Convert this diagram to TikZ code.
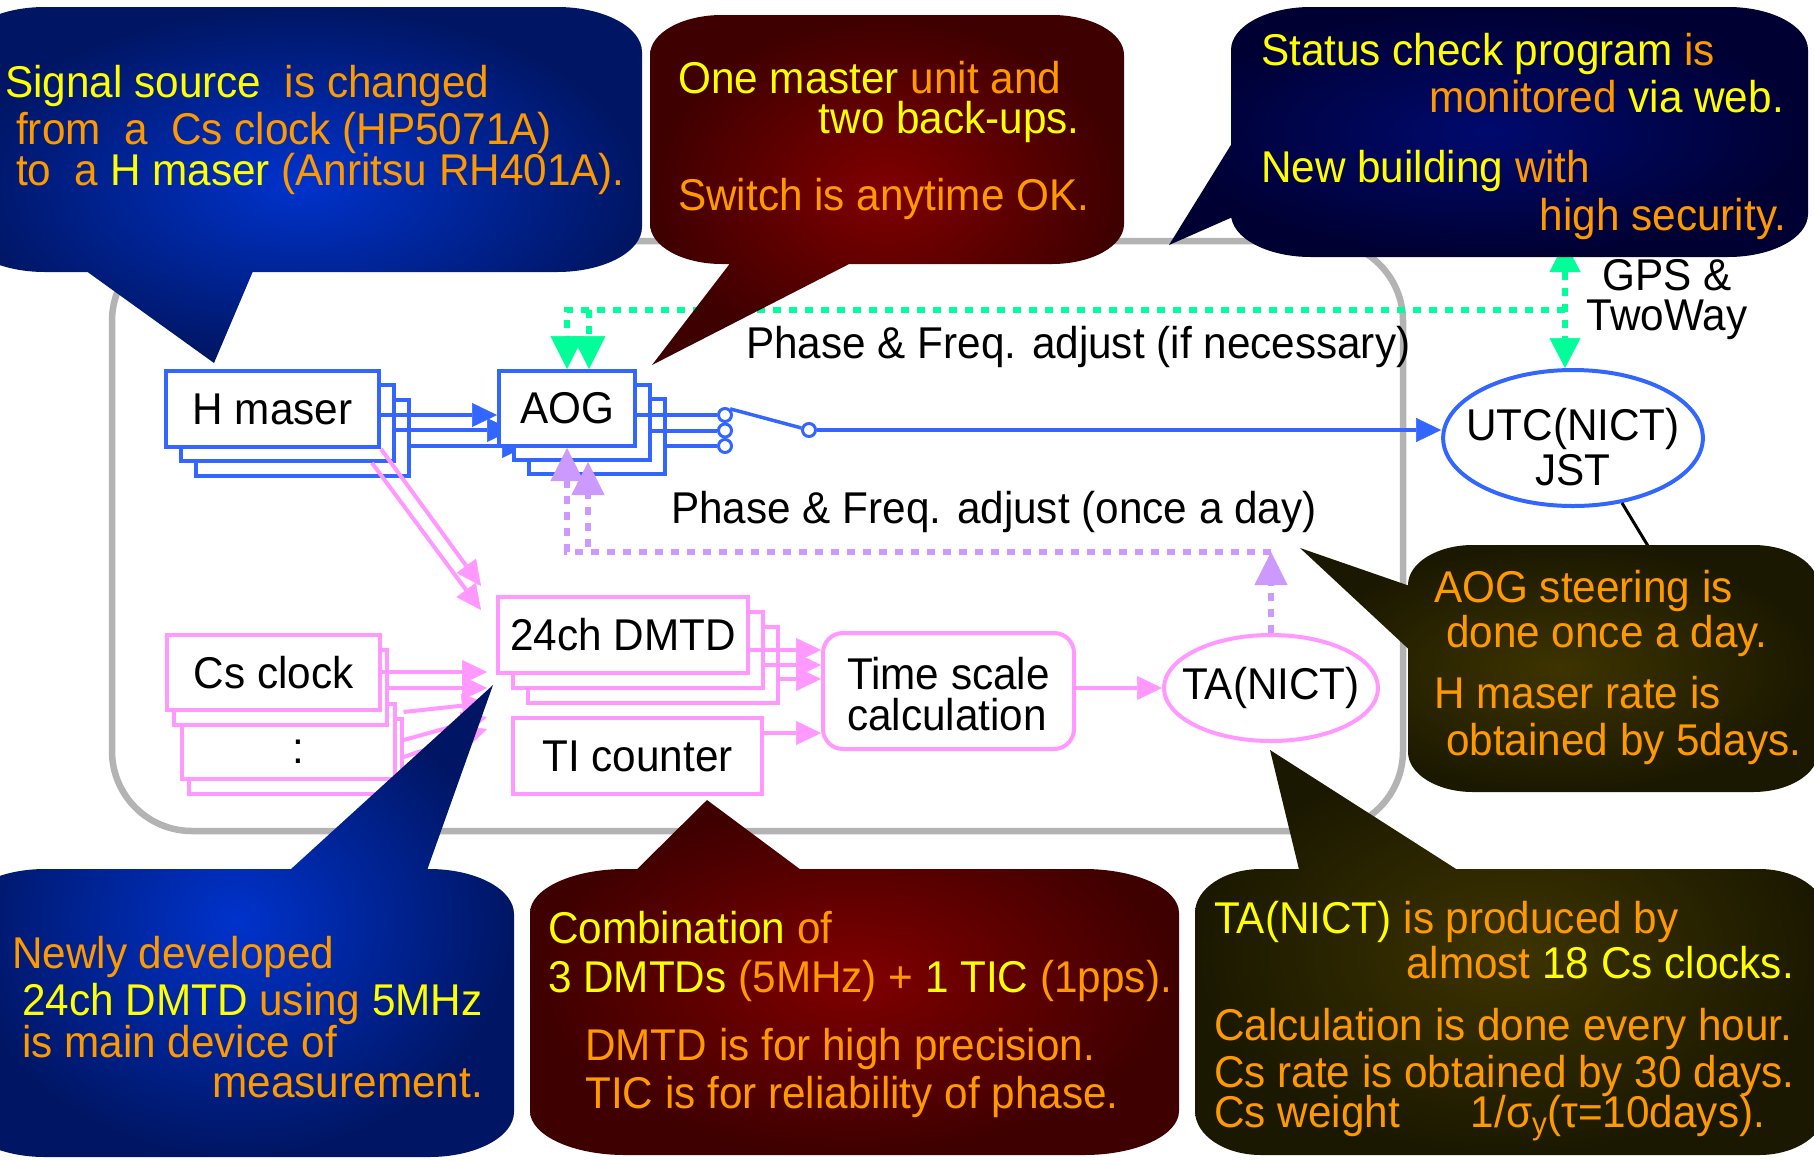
\documentclass[tikz,border=0pt]{standalone}
\usepackage{fontspec}
\setmainfont[FakeStretch=0.95]{Liberation Sans}
\usetikzlibrary{arrows.meta,shapes.geometric}

\definecolor{cblue}{RGB}{51,102,255}
\definecolor{cpink}{RGB}{255,153,255}
\definecolor{clav}{RGB}{204,153,255}
\definecolor{cgreen}{RGB}{0,255,153}
\definecolor{cframe}{RGB}{179,179,179}
\definecolor{cyel}{RGB}{255,255,0}
\definecolor{corg}{RGB}{255,153,0}
\definecolor{blueIn}{RGB}{0,51,204}
\definecolor{blueOut}{RGB}{0,22,100}
\definecolor{redIn}{RGB}{128,0,0}
\definecolor{redOut}{RGB}{62,0,0}
\definecolor{navyIn}{RGB}{0,10,110}
\definecolor{navyOut}{RGB}{0,0,50}
\definecolor{oliveIn}{RGB}{62,52,0}
\definecolor{oliveOut}{RGB}{26,24,0}

\newcommand\Yel[1]{\textcolor{cyel}{#1}}
\newcommand\Org[1]{\textcolor{corg}{#1}}
\newcommand\bigfont{\fontsize{44.5}{49}\selectfont}

% rounded box with elliptic corners: x1,y1,x2,y2,rx,ry
\newcommand\balloonbody[6]{%
 ({#1+#5},#2) -- ({#3-#5},#2)
 .. controls ({#3-0.448*#5},#2) and (#3,{#2+0.448*#6}) .. (#3,{#2+#6})
 -- (#3,{#4-#6})
 .. controls (#3,{#4-0.448*#6}) and ({#3-0.448*#5},#4) .. ({#3-#5},#4)
 -- ({#1+#5},#4)
 .. controls ({#1+0.448*#5},#4) and (#1,{#4-0.448*#6}) .. (#1,{#4-#6})
 -- (#1,{#2+#6})
 .. controls (#1,{#2+0.448*#6}) and ({#1+0.448*#5},#2) .. ({#1+#5},#2) -- cycle}

\pgfdeclarelayer{under}
\pgfsetlayers{under,main}

\tikzset{
  lbl/.style={inner sep=0pt, font=\bigfont, text=black},
  lw/.style={lbl, anchor=base west},
  le/.style={lbl, anchor=base east},
  bunit/.style={draw=cblue, fill=white, line width=4pt, inner sep=0pt, font=\bigfont},
  punit/.style={draw=cpink, fill=white, line width=4pt, inner sep=0pt, font=\bigfont},
  hmsize/.style={minimum width=213pt, minimum height=76pt},
  cssize/.style={minimum width=213pt, minimum height=75pt},
  aogsize/.style={minimum width=136pt, minimum height=75pt},
  dmsize/.style={minimum width=250pt, minimum height=76pt},
  jack/.style={circle, draw=cblue, fill=white, line width=3pt, minimum size=13pt, inner sep=0pt},
  sig/.style={line width=4pt, -{Triangle[length=25pt,width=24pt,line width=0.5pt]}},
  bsig/.style={sig, draw=cblue},
  psig/.style={sig, draw=cpink},
  dotline/.style={line width=6.5pt, dash pattern=on 8pt off 8pt},
  gdot/.style={dotline, draw=cgreen},
  ldot/.style={dotline, draw=clav},
  bigtip/.style={-{Triangle[length=33pt,width=33pt,line width=0.5pt]}},
}

\begin{document}
\begin{tikzpicture}[x=1pt,y=-1pt]
\useasboundingbox (0,0) rectangle (1814,1160);
\clip (0,0) rectangle (1814,1160);

% ---------- enclosure and H maser stack ----------
\begin{pgfonlayer}{under}
\fill[white] (0,0) rectangle (1814,1160);
\draw[cframe, line width=6.5pt, rounded corners=80pt] (112,241) rectangle (1403,831);
\node[bunit, hmsize] (hm3) at (302.5,438) {};
\node[bunit, hmsize] (hm2) at (287.5,423) {};
\node[bunit, hmsize] (hm) at (272.5,409) {H maser};
\end{pgfonlayer}

% ---------- AOG stack ----------
\node[bunit, aogsize] (aog3) at (597,436.5) {};
\node[bunit, aogsize] (aog2) at (582,422.5) {};
\node[bunit, aogsize] (aog) at (567,408.5) {AOG};

\begin{pgfonlayer}{under}
\draw[bsig] (hm.east |- 0,415) -- (aog.west |- 0,415);
\draw[bsig] (hm2.east |- 0,430) -- (aog2.west |- 0,430);
\draw[bsig] (hm3.east |- 0,446) -- (aog3.west |- 0,446);
\end{pgfonlayer}

% ---------- output switch and UTC ----------
\node[bunit, ellipse, minimum width=258pt, minimum height=136pt, inner xsep=-15pt, align=center,
      font=\fontsize{44.5}{45}\selectfont] (utc) at (1573,438) {\rule{0pt}{50pt}UTC(NICT)\\JST};
\node[jack] (sw1) at (725,415) {};
\node[jack] (sw2) at (725,430.5) {};
\node[jack] (sw3) at (725,446) {};
\node[jack] (pole) at (809,430) {};
\draw[cblue, line width=4pt] (aog.east |- sw1) -- (sw1.west);
\draw[cblue, line width=4pt] (aog2.east |- sw2) -- (sw2.west);
\draw[cblue, line width=4pt] (aog3.east |- sw3) -- (sw3.west);
\draw[cblue, line width=3.5pt] (sw1.50) -- (pole.165);
\draw[bsig] (pole.east) -- (utc.west |- pole.east);

% ---------- measurement chain ----------
\node[punit, dmsize] (dm3) at (653,665) {};
\node[punit, dmsize] (dm2) at (638,650) {};
\node[punit, dmsize] (dm) at (623,635) {24ch DMTD};
\node[punit, minimum width=249pt, minimum height=76pt] (ti) at (637.5,756) {TI counter};
\node[punit, rounded corners=20pt, minimum width=251pt, minimum height=116pt, align=left,
      font=\fontsize{44.5}{41}\selectfont] (ts) at (948.5,691) {\rule{0pt}{38pt}Time scale\\calculation};
\node[punit, ellipse, minimum width=214pt, minimum height=106pt, inner xsep=-15pt] (ta) at (1271,688) {TA(NICT)};

\node[punit, cssize] (dots2) at (295,756.5) {};
\node[punit, cssize] (dots) at (288,741.5) {};
\node[punit, cssize] (cs2) at (280.5,687.5) {};
\node[punit, cssize] (cs) at (273.5,672.5) {Cs clock};
\node[lbl, anchor=base] (colon) at (298,763) {:};

\draw[psig] (dm.east |- 0,650) -- (ts.west |- 0,650);
\draw[psig] (dm2.east |- 0,665) -- (ts.west |- 0,665);
\draw[psig] (dm3.east |- 0,679) -- (ts.west |- 0,679);
\draw[psig] (ti.east |- 0,733) -- (ts.west |- 0,733);
\draw[psig] (ts.east |- ta) -- (ta.west);

\coordinate (dmin) at ([xshift=-9pt]dm.west);
\draw[psig] (cs.east |- 0,672) -- (dmin |- 0,672);
\draw[psig] (cs2.east |- 0,688) -- (dmin |- 0,688);
\draw[psig] (dots2.east |- 0,712) -- (dmin |- 0,703);
\draw[psig] (dots2.east |- 0,740) -- (dmin |- 0,717);
\draw[psig] (dots2.east |- 0,757) -- (dmin |- 0,729);

\coordinate (hdin1) at ([xshift=-15pt,yshift=9pt]dm.north west);
\coordinate (hdin2) at ([xshift=-15pt,yshift=-15pt]dm.north west);
\draw[psig] (hm.south east) -- (hdin1);
\draw[psig] ([xshift=-24pt]hm2.south east) -- (hdin2);

% ---------- steering paths ----------
\coordinate (gj) at (1565,310);
\coordinate (gtop) at (1565,242);
\coordinate (gbot) at ([xshift=-8pt]utc.north);
\draw[gdot, {Triangle[length=30pt,width=31pt,line width=0.5pt]}-{Triangle[length=30pt,width=31pt,line width=0.5pt]}] (gtop) -- (gbot);
\draw[gdot, bigtip] (gj) -| (aog.north);
\draw[gdot, bigtip] (gj) -| ([xshift=22pt]aog.north);

\coordinate (pj) at (ta.north |- 0,552);
\draw[ldot, bigtip] (ta.north) -- (pj);
\draw[ldot, bigtip] (pj) -| (aog.south);
\draw[ldot, bigtip] (pj) -| ([xshift=6pt]aog2.south);

\coordinate (c4top) at (1648,546);
\draw[black, line width=3pt] (utc.-53) -- (c4top);

% ---------- labels ----------
\node[lw] (lif) at (746,358) {Phase \& Freq. adjust (if necessary)};
\node[lw] (lonce) at (671,523) {Phase \& Freq. adjust (once a day)};
\node[lbl, anchor=base] (lgps) at (1667,290) {GPS \&};
\node[lbl, anchor=base] (ltw) at (1667,330) {TwoWay};

% ---------- callouts ----------
\shade[inner color=blueIn, outer color=blueOut]
  \balloonbody{-40}{7}{642}{272}{85}{45} (57,250) -- (262,250) -- (214,363) -- cycle;
\node[lw] (t1a) at (5,97) {\Yel{Signal source}\ \ \Org{is changed}};
\node[lw] (t1b) at (16,144) {\Org{from\ \ a\ \ Cs clock (HP5071A)}};
\node[lw] (t1c) at (16,185) {\Org{to\ \ a} \Yel{H maser} \Org{(Anritsu RH401A).}};

\shade[inner color=redIn, outer color=redOut]
  \balloonbody{650}{15}{1124}{264}{72}{40} (748,240) -- (896,240) -- (652,365) -- cycle;
\node[lw] (t2a) at (678,93) {\Yel{One master} \Org{unit and}};
\node[le] (t2b) at (1080,133) {\Yel{two back-ups.}};
\node[lw] (t2c) at (678,210) {\Org{Switch is anytime OK.}};

\shade[inner color=navyIn, outer color=navyOut]
  \balloonbody{1231}{7}{1808}{257}{80}{43} (1169,245) -- (1260,98) -- (1260,205) -- cycle;
\node[lw] (t3a) at (1261,65) {\Yel{Status check program} \Org{is}};
\node[le] (t3b) at (1784,112) {\Org{monitored} \Yel{via web.}};
\node[lw] (t3c) at (1261,182) {\Yel{New building} \Org{with}};
\node[le] (t3d) at (1786,230) {\Org{high security.}};

\shade[inner color=oliveIn, outer color=oliveOut]
  \balloonbody{1408}{545}{1818}{792}{65}{40} (1300,548) -- (1430,593) -- (1430,669) -- cycle;
\node[lw] (t4a) at (1434,602) {\Org{AOG steering is}};
\node[lw] (t4b) at (1446,647) {\Org{done once a day.}};
\node[lw] (t4c) at (1434,708) {\Org{H maser rate is}};
\node[lw] (t4d) at (1446,755) {\Org{obtained by 5days.}};

\shade[inner color=blueIn, outer color=blueOut]
  \balloonbody{-40}{869}{514}{1157}{85}{45} (420,890) -- (268,890) -- (493,685) -- cycle;
\node[lw] (t5a) at (12,968) {\Org{Newly developed}};
\node[lw] (t5b) at (22,1015) {\Yel{24ch DMTD} \Org{using} \Yel{5MHz}};
\node[lw] (t5c) at (22,1057) {\Org{is main device of}};
\node[le] (t5d) at (483,1097) {\Org{measurement.}};

\shade[inner color=redIn, outer color=redOut]
  \balloonbody{530}{869}{1179}{1155}{95}{44} (828,890) -- (616,890) -- (707,800) -- cycle;
\node[lw] (t6a) at (548,943) {\Yel{Combination} \Org{of}};
\node[lw] (t6b) at (548,992) {\Yel{3 DMTDs} \Org{(5MHz) +} \Yel{1 TIC} \Org{(1pps).}};
\node[lw] (t6c) at (585,1060) {\Org{DMTD is for high precision.}};
\node[lw] (t6d) at (585,1108) {\Org{TIC is for reliability of phase.}};

\shade[inner color=oliveIn, outer color=oliveOut]
  \balloonbody{1195}{869}{1825}{1155}{66}{44} (1489,890) -- (1304,890) -- (1270,750) -- cycle;
\node[lw] (t7a) at (1214,933) {\Yel{TA(NICT)} \Org{is produced by}};
\node[le] (t7b) at (1794,978) {\Org{almost} \Yel{18 Cs clocks.}};
\node[lw] (t7c) at (1214,1040) {\Org{Calculation is done every hour.}};
\node[lw] (t7d) at (1214,1087) {\Org{Cs rate is obtained by 30 days.}};
\node[lw] (t7e) at (1214,1127) {\Org{Cs weight\hspace*{71pt}1/σ\textsubscript{y}(τ=10days).}};
\end{tikzpicture}
\end{document}
